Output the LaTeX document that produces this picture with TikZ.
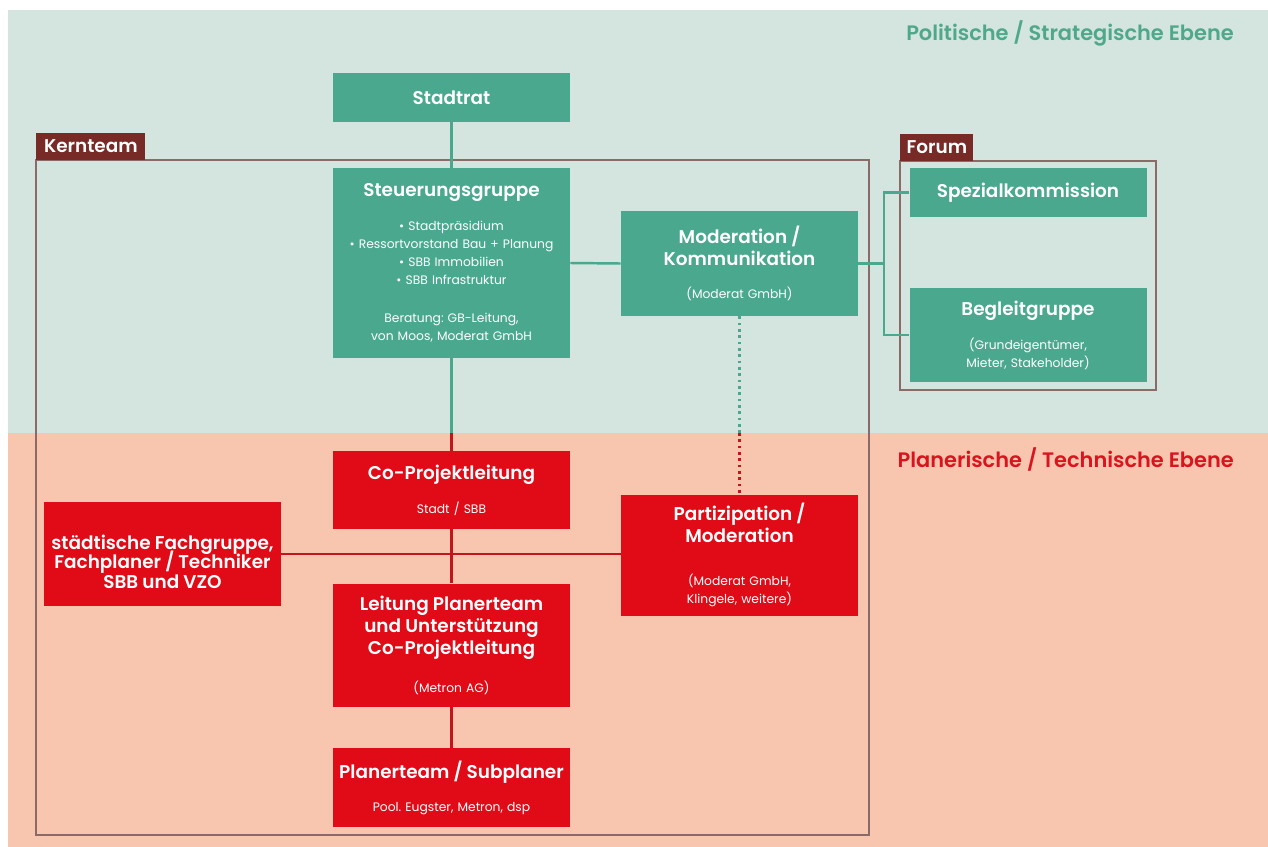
\documentclass[tikz,border=0pt]{standalone}
\usepackage{fontspec}
\setmainfont{Poppins}[BoldFont={Poppins SemiBold}]
\usepackage{xcolor}
\usepackage{tikz}

\definecolor{topbg}{HTML}{D4E4DF}
\definecolor{botbg}{HTML}{F8C6AE}
\definecolor{boxgreen}{HTML}{4AA88E}
\definecolor{titlegreen}{HTML}{4FA88A}
\definecolor{boxred}{HTML}{E10A17}
\definecolor{titlered}{HTML}{D9141E}
\definecolor{linered}{HTML}{C4141C}
\definecolor{tabbrown}{HTML}{772A26}
\definecolor{framebrown}{HTML}{8A6B67}

\newcommand{\hd}{\fontsize{10.5}{12.5}\selectfont\bfseries}
\newcommand{\ttl}{\fontsize{11.9}{14}\selectfont\bfseries}
\newcommand{\sm}{\fontsize{7}{10.2}\selectfont\lineskiplimit=-20pt}
\frenchspacing

\begin{document}
\begin{tikzpicture}[
    box/.style={minimum width=4.74cm, text width=4.6cm, align=center, inner sep=0pt, text=white, font=\sm},
    gbox/.style={box, fill=boxgreen},
    rbox/.style={box, fill=boxred},
    frame/.style={draw=framebrown, line width=0.85pt},
    tab/.style={fill=tabbrown, text=white, font=\hd, inner sep=0pt, anchor=south west, minimum height=0.54cm},
    gline/.style={draw=boxgreen, line width=1.4pt},
    rline/.style={draw=linered, line width=1.4pt},
    dots/.style={line width=1.7pt, dash pattern=on 1.6pt off 2pt}
]
    % Hintergrund der beiden Ebenen
    \useasboundingbox (0,0) rectangle (25.36,-16.94);
    \fill[topbg] (0.16,-0.2) rectangle (25.36,-8.66);
    \fill[botbg] (0.16,-8.66) rectangle (25.36,-16.94);
    \coordinate (band) at (0,-8.66);
    \node[anchor=east, font=\ttl, text=titlegreen] (ebeneoben) at (24.8,-0.66) {Politische / Strategische Ebene};
    \node[anchor=east, font=\ttl, text=titlered] (ebeneunten) at (24.8,-9.18) {Planerische / Technische Ebene};

    % Rahmen Kernteam und Forum
    \draw[frame] (0.72,-3.2) rectangle (17.38,-16.7);
    \node[tab, minimum width=2.18cm] (kernteam) at (0.72,-3.2) {Kernteam};
    \draw[frame] (18,-3.22) rectangle (23.12,-7.8);
    \node[tab, minimum width=1.46cm] (forum) at (18,-3.22) {Forum};

    % Boxen
    \node[gbox, minimum height=0.98cm] (stadtrat) at (9.03,-1.95) {{\hd Stadtrat}};
    \node[gbox, minimum height=3.8cm] (steuerung) at (9.03,-5.26) {{\hd Steuerungsgruppe}\\[9.2pt]
        • Stadtpräsidium\\
        • Ressortvorstand Bau + Planung\\
        • SBB Immobilien\\
        • SBB Infrastruktur\\[11.4pt]
        Beratung: GB-Leitung,\\
        von Moos, Moderat GmbH};
    \node[gbox, minimum height=2.1cm] (moderation) at (14.79,-5.27) {{\hd Moderation /}\\[2.3pt]{\hd Kommunikation}\\[8.2pt](Moderat GmbH)};
    \node[gbox, minimum height=0.98cm] (spezial) at (20.56,-3.85) {{\hd Spezialkommission}};
    \node[gbox, minimum height=1.88cm] (begleit) at (20.56,-6.7) {{\hd Begleitgruppe}\\[9.2pt](Grundeigentümer,\\Mieter, Stakeholder)};

    \node[rbox, minimum height=1.56cm] (coprojekt) at (9.03,-9.8) {{\hd Co-Projektleitung}\\[9.2pt]Stadt / SBB};
    \node[rbox, minimum height=2.42cm] (partizipation) at (14.79,-11.1) {{\hd Partizipation /}\\[2.3pt]{\hd Moderation}\\[14.3pt](Moderat GmbH,\\Klingele, weitere)};
    \node[rbox, minimum height=2.08cm] (fachgruppe) at (3.25,-11.08) {\rule{0pt}{17pt}{\hd städtische Fachgruppe,}\\[0.9pt]{\hd Fachplaner / Techniker}\\[0.9pt]{\hd SBB und VZO}};
    \node[rbox, minimum height=2.46cm] (leitung) at (9.03,-12.9) {{\hd Leitung Planerteam}\\[2.3pt]{\hd und Unterstützung}\\[2.3pt]{\hd Co-Projektleitung}\\[11.4pt](Metron AG)};
    \node[rbox, minimum height=1.58cm] (planerteam) at (9.03,-15.75) {{\hd Planerteam / Subplaner}\\[8.6pt]Pool. Eugster, Metron, dsp};

    % Verbindungen
    \draw[gline] (stadtrat.south) -- (steuerung.north);
    \draw[gline] (steuerung.east) -- (moderation.west);
    \coordinate (gabel) at (17.68,-5.27);
    \draw[gline] (moderation.east) -- (gabel);
    \draw[gline] (spezial.west) -| (gabel) |- (begleit.west);
    \draw[gline] (steuerung.south) -- (steuerung.south |- band);
    \draw[rline] (steuerung.south |- band) -- (coprojekt.north);
    \draw[gline, dots] (moderation.south) -- (moderation.south |- band);
    \draw[rline, dots] (moderation.south |- band) -- (partizipation.north);
    \draw[rline] (coprojekt.south) -- (leitung.north);
    \draw[rline] (leitung.south) -- (planerteam.north);
    \draw[rline] (fachgruppe.east) -- (fachgruppe.east -| partizipation.west);
\end{tikzpicture}
\end{document}
